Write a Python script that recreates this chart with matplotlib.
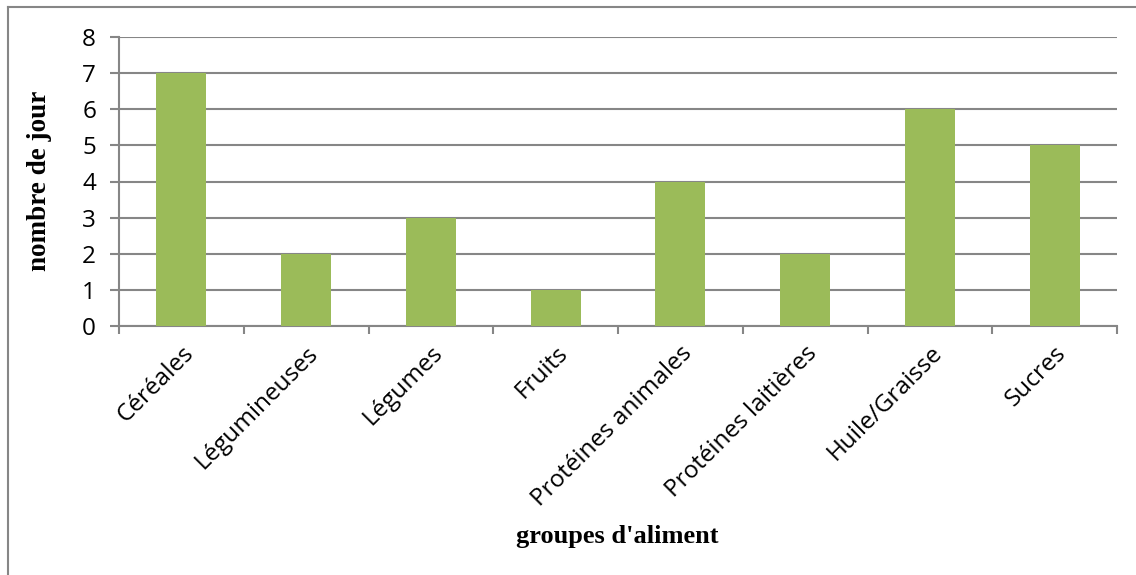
import numpy as np
import matplotlib
matplotlib.use('Agg')
import matplotlib.pyplot as plt
from matplotlib.lines import Line2D

categories = ['Céréales', 'Légumineuses', 'Légumes', 'Fruits',
              'Protéines animales', 'Protéines laitières', 'Huile/Graisse', 'Sucres']
jours = [7, 2, 3, 1, 4, 2, 6, 5]
yticks = [0, 1, 2, 3, 4, 5, 6, 7, 8]

W, H = 1136, 575
grey = '#868686'

def main():
    fig = plt.figure(figsize=(W / 100, H / 100), dpi=100)
    ax = fig.add_axes([119 / W, 1 - 326 / H, (1117 - 119) / W, (326 - 37) / H])

    x = np.arange(len(categories))
    ax.bar(x, jours, width=0.4, color='#9BBB59', zorder=3)

    ax.set_xlim(-0.5, len(categories) - 0.5)
    ax.set_ylim(0, 8)
    ax.set_yticks(yticks)
    ax.yaxis.grid(True, color=grey, linewidth=1.5, zorder=0)

    for side in ['top', 'right']:
        ax.spines[side].set_visible(False)
    for side in ['left', 'bottom']:
        ax.spines[side].set_color(grey)
        ax.spines[side].set_linewidth(1.5)

    ax.set_xticks(x)
    ax.set_xticklabels(categories, rotation=45, ha='right', va='top',
                       rotation_mode='anchor', family='Open Sans', fontsize=17.5)
    ax.set_xticks(np.arange(len(categories) + 1) - 0.5, minor=True)
    ax.tick_params(axis='x', which='major', length=0, pad=11)
    ax.tick_params(axis='x', which='minor', length=6, width=1.5, color=grey)
    ax.tick_params(axis='y', length=6.5, width=1.5, color=grey, pad=10)
    for lab in ax.get_yticklabels():
        lab.set_family('Open Sans')
        lab.set_fontsize(17.5)

    fig.text(40 / W, 1 - 181 / H, 'nombre de jour', rotation=90, ha='center', va='center',
             family='Liberation Serif', fontweight='bold', fontsize=19.5)
    fig.text(617 / W, 1 - 537 / H, "groupes d'aliment", ha='center', va='center',
             family='Liberation Serif', fontweight='bold', fontsize=19)

    # chart border (clipped at right and bottom like the reference)
    fig.add_artist(Line2D([8 / W, 1], [1 - 7 / H, 1 - 7 / H], color=grey, linewidth=1.5))
    fig.add_artist(Line2D([8 / W, 8 / W], [0, 1 - 7 / H], color=grey, linewidth=1.5))

    fig.savefig('out.png', dpi=100)

if __name__ == '__main__':
    main()
